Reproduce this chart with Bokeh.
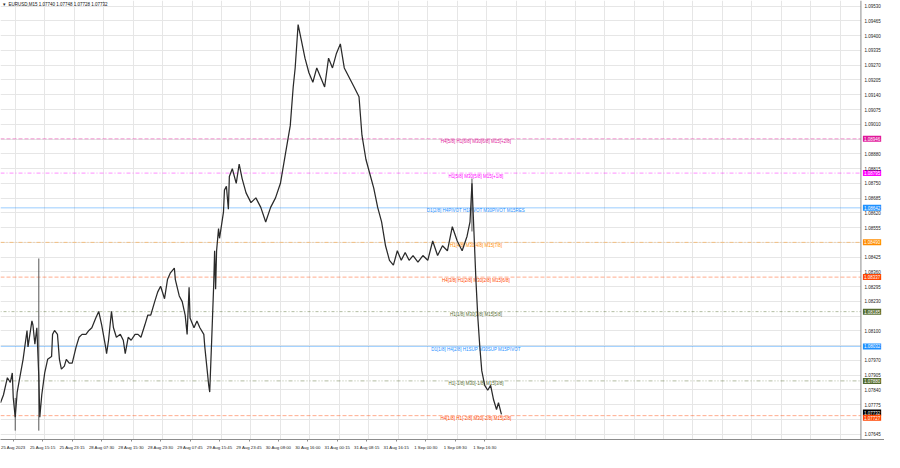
from bokeh.plotting import figure
from bokeh.models import FixedTicker, Label, Range1d, Span, BoxAnnotation
from bokeh.embed import file_html
from bokeh.resources import INLINE
from bokeh.core.properties import value

title_text = "EURUSD,M15  1.07740 1.07748 1.07728 1.07732"

# bar index (M15 bars, left to right) and close prices
bar_x = [0, 3, 7, 10, 12, 13, 15, 17, 20, 23, 27, 28, 32, 33, 35, 37, 39, 40, 42, 45, 48, 52, 53, 55, 58,
         60, 62, 65, 67, 70, 73, 77, 80, 83, 87, 90, 93, 97, 100, 103, 107, 108, 110, 113, 115, 118, 122,
         125, 127, 130, 133, 137, 140, 143, 147, 150, 153, 157, 160, 163, 167, 170, 173, 177, 178, 182,
         185, 188, 190, 192, 193, 197, 200, 203, 207, 208, 210, 212, 213, 215, 217, 218, 219, 220, 222,
         223, 227, 228, 230, 232, 233, 236, 240, 243, 246, 250, 255, 260, 265, 270, 275, 280, 285, 290,
         295, 298, 300, 303, 306, 310, 314, 318, 322, 326, 330, 334, 338, 342, 346, 350, 355, 360, 365,
         368, 372, 376, 380, 384, 388, 392, 396, 400, 404, 408, 412, 416, 420, 425, 430, 435, 440, 445,
         450, 455, 460, 465, 470, 475, 478, 480, 482, 484, 486, 488, 490, 493, 496, 499, 502, 505, 507, 510]
close = [1.07784, 1.07818, 1.07894, 1.07873, 1.07915, 1.07805, 1.07720, 1.07831, 1.07903, 1.07975,
         1.08102, 1.08030, 1.08144, 1.08127, 1.08042, 1.08114, 1.07900, 1.07720, 1.07818, 1.07915,
         1.07975, 1.07987, 1.08085, 1.08102, 1.08085, 1.07975, 1.07932, 1.07945, 1.07975, 1.07958,
         1.07958, 1.08030, 1.08072, 1.08085, 1.08085, 1.08102, 1.08114, 1.08157, 1.08186, 1.08127,
         1.08030, 1.08000, 1.08059, 1.08186, 1.08114, 1.08072, 1.08085, 1.08059, 1.08000, 1.08072,
         1.08059, 1.08085, 1.08085, 1.08072, 1.08127, 1.08170, 1.08170, 1.08229, 1.08271, 1.08297,
         1.08242, 1.08326, 1.08356, 1.08377, 1.08326, 1.08254, 1.08229, 1.08170, 1.08085, 1.08292,
         1.08157, 1.08114, 1.08144, 1.08114, 1.08085, 1.08030, 1.07945, 1.07860, 1.07831, 1.08059,
         1.08297, 1.08453, 1.08284, 1.08453, 1.08551, 1.08508, 1.08623, 1.08720, 1.08737, 1.08636,
         1.08780, 1.08814, 1.08750, 1.08835, 1.08771, 1.08708, 1.08665, 1.08686, 1.08644, 1.08580,
         1.08644, 1.08686, 1.08750, 1.08877, 1.09004, 1.09174, 1.09258, 1.09449, 1.09386, 1.09301,
         1.09237, 1.09195, 1.09258, 1.09216, 1.09174, 1.09301, 1.09258, 1.09322, 1.09364, 1.09258,
         1.09216, 1.09174, 1.09131, 1.08962, 1.08856, 1.08792, 1.08729, 1.08644, 1.08580, 1.08475,
         1.08411, 1.08390, 1.08453, 1.08411, 1.08445, 1.08411, 1.08432, 1.08403, 1.08432, 1.08411,
         1.08496, 1.08432, 1.08475, 1.08453, 1.08559, 1.08496, 1.08453, 1.08517, 1.08580, 1.08750,
         1.08538, 1.08326, 1.08157, 1.08030, 1.07924, 1.07860, 1.07839, 1.07860, 1.07797, 1.07754,
         1.07784, 1.07733]

# long wicks
wick_x = [15, 39, 480]
wick_high = [1.07805, 1.08419, 1.08771]
wick_low = [1.07661, 1.07661, 1.08538]

price_ticks = [1.09530, 1.09465, 1.09400, 1.09335, 1.09270, 1.09205, 1.09140, 1.09075, 1.09010,
               1.08880, 1.08815, 1.08750, 1.08685, 1.08620, 1.08555, 1.08425, 1.08360, 1.08295,
               1.08230, 1.08100, 1.07970, 1.07905, 1.07840, 1.07775, 1.07645]
grid_prices = [1.09530, 1.09465, 1.09400, 1.09335, 1.09270, 1.09205, 1.09140, 1.09075, 1.09010,
               1.08945, 1.08880, 1.08815, 1.08750, 1.08685, 1.08620, 1.08555, 1.08490, 1.08425,
               1.08360, 1.08295, 1.08230, 1.08165, 1.08100, 1.08035, 1.07970, 1.07905, 1.07840,
               1.07775, 1.07710, 1.07645]

time_labels = ["25 Aug 2023", "25 Aug 15:15", "25 Aug 23:15", "28 Aug 07:30", "28 Aug 15:30",
               "28 Aug 23:30", "29 Aug 07:45", "29 Aug 15:45", "29 Aug 23:45", "30 Aug 08:00",
               "30 Aug 16:00", "31 Aug 00:15", "31 Aug 08:15", "31 Aug 16:15", "1 Sep 00:30",
               "1 Sep 08:30", "1 Sep 16:30"]

levels = [1.08946, 1.08795, 1.08642, 1.08490, 1.08337, 1.08185, 1.08032, 1.07880, 1.07727]
level_texts = ["H4[5/8] H1[6/8] M30[6/8] M15[+2/8]",
               "H1[5/8] M30[5/8] M15[+1/8]",
               "D1[2/8] H4PIVOT H1PIVOT M30PIVOT M15RES",
               "H1[4/8] M30[4/8] M15[7/8]",
               "H4[3/8] H1[2/8] M30[2/8] M15[6/8]",
               "H1[1/8] M30[1/8] M15[5/8]",
               "D1[1/8] H4[2/8] H1SUP M30SUP M15PIVOT",
               "H1[-1/8] M30[-1/8] M15[3/8]",
               "H4[1/8] H1[-2/8] M30[-2/8] M15[2/8]"]
level_colors = ["#e0189a", "#ff00ff", "#1e90ff", "#ff8c00", "#ff4500", "#556b2f", "#1e90ff",
                "#556b2f", "#ff4500"]
level_dash = ["4 2", "4 2 1 2", "solid", "4 2 1 2", "4 2", "1 2 3 2", "solid", "4 2 1 2 1 2", "4 2"]
bid_price = 1.07732

FONT = "Liberation Sans"
SCALE_X = 876     # left edge of the price scale (chart units)
X_END = 900

p = figure(width=884, height=452, output_backend="svg", toolbar_location=None,
           x_range=Range1d(0, X_END), y_range=Range1d(1.07622, 1.09555),
           y_axis_location="right", min_border_left=0, min_border_top=0,
           min_border_right=0, min_border_bottom=11)
p.background_fill_color = "white"
p.border_fill_color = "white"
p.outline_line_color = None

# grids
p.xgrid.ticker = FixedTicker(ticks=[15 + 30 * k for k in range(29)])
p.ygrid.ticker = FixedTicker(ticks=grid_prices)
p.xgrid.grid_line_color = "#e6e6e6"
p.ygrid.grid_line_color = "#e6e6e6"
# blank price-scale strip on the right
p.add_layout(BoxAnnotation(left=SCALE_X, right=X_END, fill_color="white", fill_alpha=1.0,
                           line_color=None, level="underlay"))
p.add_layout(Span(location=SCALE_X, dimension="height", line_color="#8c8c8c", line_width=1))

# price axis: labels drawn back over the strip
p.yaxis.ticker = FixedTicker(ticks=price_ticks)
p.yaxis.major_label_overrides = {t: f"{t:.5f}" for t in price_ticks}
p.yaxis.major_label_text_font_size = "4.5px"
p.yaxis.major_label_text_font = FONT
p.yaxis.major_label_text_color = "#222222"
p.yaxis.major_label_standoff = -20
p.yaxis.major_tick_out = 0
p.yaxis.major_tick_in = 0
p.yaxis.minor_tick_line_color = None
p.yaxis.major_tick_line_color = None
p.yaxis.axis_line_color = None

x_ticks = [13 + 30 * i for i in range(len(time_labels))]
p.xaxis.ticker = FixedTicker(ticks=x_ticks)
p.xaxis.major_label_overrides = {t: lab for t, lab in zip(x_ticks, time_labels)}
p.xaxis.major_label_text_font_size = "4.3px"
p.xaxis.major_label_text_font = FONT
p.xaxis.major_label_text_color = "#222222"
p.xaxis.major_label_standoff = 3
p.xaxis.major_tick_out = 2
p.xaxis.major_tick_in = 0
p.xaxis.minor_tick_line_color = None
p.xaxis.axis_line_color = "#8c8c8c"
p.xaxis.major_tick_line_color = "#8c8c8c"

# level lines
for lv, col, dash in zip(levels, level_colors, level_dash):
    p.line([0, SCALE_X], [lv, lv], line_color=col, line_alpha=0.45, line_width=1, line_dash=dash)

p.text(x=[484] * len(levels), y=levels, text=level_texts, text_color=level_colors,
       text_font=value(FONT), text_font_size="4.5px", text_align="center",
       text_baseline="middle", y_offset=3)

# price series
p.segment(x0=wick_x, y0=wick_low, x1=wick_x, y1=wick_high, line_color="#555555", line_width=1)
p.line(bar_x, close, line_color="#2a2a2a", line_width=1.25)

# price labels on the scale
p.text(x=[SCALE_X + 2], y=[bid_price], text=[f"{bid_price:.5f}"], text_color="white",
       text_font=value(FONT), text_font_size="4.5px", text_baseline="middle", text_align="left",
       background_fill_color="black", padding=1, y_offset=-2)
offsets = [0] * (len(levels) - 1) + [2]
p.text(x=[SCALE_X + 2] * len(levels), y=levels, text=[f"{lv:.5f}" for lv in levels],
       text_color="white", text_font=value(FONT), text_font_size="4.5px",
       text_baseline="middle", text_align="left", background_fill_color=level_colors,
       padding=1, y_offset=offsets)

# title
p.add_layout(Label(x=2, y=433, x_units="screen", y_units="screen", text="\u25be",
                   text_font=FONT, text_font_size="5px", text_color="#222222"))
p.add_layout(Label(x=8, y=433, x_units="screen", y_units="screen", text=title_text,
                   text_font=FONT, text_font_size="4.5px", text_color="#111111"))

open("out.html", "w").write(file_html(p, INLINE))
